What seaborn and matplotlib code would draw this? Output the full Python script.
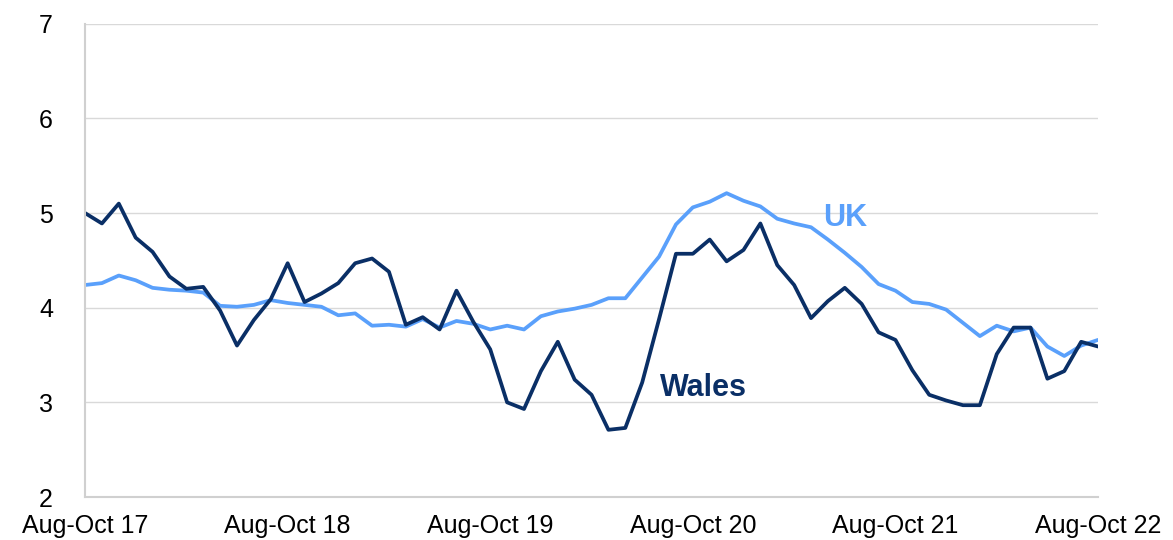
import matplotlib
matplotlib.use("Agg")
import matplotlib.pyplot as plt
import seaborn as sns
import pandas as pd

# rolling three-month periods, Aug-Oct 17 .. Aug-Oct 22 (61 points)
wales = [5.00, 4.89, 5.10, 4.74, 4.59, 4.33, 4.20, 4.22, 3.97, 3.60,
         3.87, 4.09, 4.47, 4.06, 4.15, 4.26, 4.47, 4.52, 4.38, 3.82,
         3.90, 3.77, 4.18, 3.85, 3.56, 3.00, 2.93, 3.33, 3.64, 3.24,
         3.08, 2.71, 2.73, 3.21, 3.88, 4.57, 4.57, 4.72, 4.49, 4.61,
         4.89, 4.45, 4.24, 3.89, 4.07, 4.21, 4.04, 3.74, 3.66, 3.34,
         3.08, 3.02, 2.97, 2.97, 3.51, 3.79, 3.79, 3.25, 3.33, 3.64,
         3.59]
uk = [4.24, 4.26, 4.34, 4.29, 4.21, 4.19, 4.18, 4.16, 4.02, 4.01,
      4.03, 4.08, 4.05, 4.03, 4.01, 3.92, 3.94, 3.81, 3.82, 3.80,
      3.88, 3.79, 3.86, 3.83, 3.77, 3.81, 3.77, 3.91, 3.96, 3.99,
      4.03, 4.10, 4.10, 4.32, 4.54, 4.88, 5.06, 5.12, 5.21, 5.13,
      5.07, 4.94, 4.89, 4.85, 4.72, 4.58, 4.43, 4.25, 4.18, 4.06,
      4.04, 3.98, 3.84, 3.70, 3.81, 3.75, 3.79, 3.59, 3.49, 3.60,
      3.66]
tick_labels = ["Aug-Oct 17", "Aug-Oct 18", "Aug-Oct 19",
               "Aug-Oct 20", "Aug-Oct 21", "Aug-Oct 22"]

n = len(wales)
df = pd.DataFrame({
    "period": list(range(n)) * 2,
    "rate": wales + uk,
    "area": ["Wales"] * n + ["UK"] * n,
})

sns.set_style("white")
plt.rcParams["font.family"] = ["Liberation Sans", "DejaVu Sans"]

wales_col = "#0a2f66"
uk_col = "#5aa0fb"

fig = plt.figure(figsize=(11.73, 5.40), dpi=100)
ax = fig.add_axes([0.0725, 0.0796, 0.8636, 0.8764])

sns.lineplot(data=df, x="period", y="rate", hue="area",
             palette={"Wales": wales_col, "UK": uk_col},
             hue_order=["UK", "Wales"], linewidth=2.7,
             legend=False, ax=ax)

ax.set_xlim(0, n - 1)
ax.set_ylim(2, 7)
ax.set_yticks([2, 3, 4, 5, 6, 7])
ax.set_xticks(list(range(0, n, 12)))
ax.set_xticklabels(tick_labels)
ax.set_xlabel("")
ax.set_ylabel("")
ax.grid(axis="y", color="#d9d9d9", linewidth=1)
ax.set_axisbelow(True)

for s in ["top", "right"]:
    ax.spines[s].set_visible(False)
for s in ["left", "bottom"]:
    ax.spines[s].set_color("#d0d0d0")
    ax.spines[s].set_linewidth(1.5)

ax.tick_params(axis="x", length=5, color="#d0d0d0", width=1.5,
               labelsize=18, pad=7, labelcolor="black")
ax.tick_params(axis="y", length=0, labelsize=18, pad=23,
               labelcolor="black")

ax.text(36.6, 3.15, "Wales", color=wales_col, fontsize=22,
        fontweight="bold", ha="center", va="center")
ax.text(45.0, 4.95, "UK", color=uk_col, fontsize=22,
        fontweight="bold", ha="center", va="center")

fig.savefig("out.png", dpi=100)
